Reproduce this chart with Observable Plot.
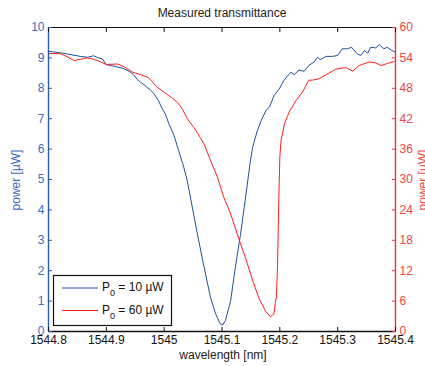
<!DOCTYPE html>
<html><head><meta charset="utf-8">
<script src="https://cdn.jsdelivr.net/npm/d3@7"></script>
<script src="https://cdn.jsdelivr.net/npm/@observablehq/plot@0.6"></script>
<style>
body{margin:0;background:#fff}
#chart{position:relative;width:425px;height:366px;overflow:hidden}
</style>
</head><body><div id="chart"></div>
<script>
// ---- data ----
const blueWavelength = [1544.800,1544.826,1544.855,1544.868,1544.878,1544.886,1544.893,1544.900,1544.915,1544.930,1544.940,1544.947,1544.953,1544.959,1544.965,1544.970,1544.976,1544.982,1544.990,1544.996,1545.002,1545.008,1545.017,1545.025,1545.034,1545.040,1545.046,1545.057,1545.069,1545.080,1545.089,1545.097,1545.101,1545.106,1545.115,1545.123,1545.132,1545.140,1545.149,1545.153,1545.161,1545.168,1545.176,1545.182,1545.190,1545.199,1545.207,1545.213,1545.219,1545.225,1545.233,1545.242,1545.250,1545.259,1545.265,1545.270,1545.280,1545.291,1545.300,1545.308,1545.317,1545.324,1545.334,1545.340,1545.346,1545.352,1545.357,1545.366,1545.372,1545.380,1545.386,1545.393,1545.400];
const bluePower = [9.22,9.15,9.05,9.02,9.07,9.00,8.97,8.78,8.72,8.65,8.55,8.45,8.30,8.20,8.12,8.04,7.95,7.83,7.60,7.35,7.16,6.84,6.45,5.95,5.40,4.95,4.35,3.25,2.12,1.13,0.58,0.25,0.21,0.36,1.02,2.10,3.20,4.30,5.60,6.06,6.60,6.95,7.27,7.38,7.76,7.98,8.26,8.40,8.53,8.45,8.60,8.56,8.75,8.86,9.02,8.94,9.05,9.05,9.08,9.30,9.30,9.35,9.13,9.08,9.24,9.16,9.35,9.33,9.44,9.30,9.35,9.25,9.19];

const redWavelength = [1544.800,1544.821,1544.833,1544.844,1544.855,1544.867,1544.876,1544.884,1544.900,1544.919,1544.930,1544.945,1544.959,1544.973,1544.980,1544.988,1545.000,1545.014,1545.023,1545.031,1545.040,1545.051,1545.057,1545.069,1545.080,1545.092,1545.103,1545.115,1545.130,1545.141,1545.153,1545.164,1545.176,1545.184,1545.190,1545.192,1545.194,1545.196,1545.198,1545.200,1545.202,1545.208,1545.216,1545.228,1545.239,1545.250,1545.256,1545.268,1545.280,1545.291,1545.297,1545.314,1545.326,1545.337,1545.355,1545.366,1545.375,1545.386,1545.398,1545.400];
const redPower = [54.9,54.8,54.2,53.5,53.7,54.0,53.8,53.5,52.7,52.8,52.3,51.2,50.7,50.1,49.2,48.2,47.2,46.1,45.2,44.0,42.0,40.3,39.3,37.0,33.8,30.5,26.5,23.2,18.0,14.4,10.1,6.5,3.9,2.9,3.5,5.5,6.8,12.8,25.0,34.4,37.7,41.0,43.3,45.6,47.2,49.6,49.6,49.9,50.7,51.4,51.8,52.1,51.4,52.5,53.2,53.0,52.5,52.9,53.3,53.3];

const xTicks = [1544.8,1544.9,1545.0,1545.1,1545.2,1545.3,1545.4];
const leftTicks = [0,1,2,3,4,5,6,7,8,9,10];
const rightTicks = [0,6,12,18,24,30,36,42,48,54,60];
const seriesLabels = ["10 µW","60 µW"];
const titleText = "Measured transmittance";
const xLabel = "wavelength [nm]";
const yLabel = "power [µW]";

// ---- styles ----
const blueLine = "#1f4f9e", blueAxis = "#2a5cb0", blueText = "#3b6cc0";
const redLine = "#ff1f1f", redAxis = "#e8343a", redText = "#f04545";
const font = "'Liberation Sans', Arial, sans-serif";
const ratio = rightTicks[rightTicks.length-1] / leftTicks[leftTicks.length-1];

const blue = blueWavelength.map((x,i)=>({x, y: bluePower[i]}));
const red = redWavelength.map((x,i)=>({x, y: redPower[i]}));
const fmt = d => String(+(+d).toFixed(1));

const plot = Plot.plot({
  width: 425, height: 366,
  marginLeft: 48, marginRight: 30, marginTop: 27, marginBottom: 35,
  style: {fontFamily: font, fontSize: "12px", background: "white", overflow: "visible"},
  x: {domain: [xTicks[0], xTicks[xTicks.length-1]]},
  y: {domain: [leftTicks[0], leftTicks[leftTicks.length-1]]},
  marks: [
    Plot.line(blue, {x: "x", y: "y", stroke: blueLine, strokeWidth: 1}),
    Plot.line(red, {x: "x", y: d => d.y / ratio, stroke: redLine, strokeWidth: 1}),
    Plot.ruleY([leftTicks[leftTicks.length-1]], {stroke: "#111", strokeWidth: 1.2}),
    Plot.ruleY([leftTicks[0]], {stroke: "#111", strokeWidth: 1.4}),
    Plot.ruleX([xTicks[0]], {stroke: blueAxis, strokeWidth: 1.4}),
    Plot.ruleX([xTicks[xTicks.length-1]], {stroke: redAxis, strokeWidth: 1.4}),
    Plot.axisX({anchor: "bottom", ticks: xTicks, tickFormat: fmt, tickSize: -4, tickPadding: 8, label: null, color: "#111", fontSize: 12}),
    Plot.axisX({anchor: "top", ticks: xTicks, tickFormat: () => "", tickSize: -4, label: null, color: "#111"}),
    Plot.axisY({anchor: "left", ticks: leftTicks, tickFormat: fmt, tickSize: -4, tickPadding: 8, label: null, color: blueText, stroke: blueAxis}),
    Plot.axisY({anchor: "right", ticks: rightTicks.map(v => v / ratio), tickFormat: d => fmt(d * ratio), tickSize: -4, tickPadding: 8, label: null, color: redText, stroke: redAxis})
  ]
});

const svg = d3.select(plot);
svg.append("text").attr("x", 222).attr("y", 17).attr("text-anchor","middle")
  .attr("font-family", font).attr("font-size", 12).attr("fill", "#222").text(titleText);
svg.append("text").attr("x", 223).attr("y", 359).attr("text-anchor","middle")
  .attr("font-family", font).attr("font-size", 12).attr("fill", "#222").text(xLabel);
svg.append("text").attr("transform","translate(20,180) rotate(-90)").attr("text-anchor","middle")
  .attr("font-family", font).attr("font-size", 12).attr("fill", blueText).text(yLabel);
svg.append("text").attr("transform","translate(427,180) rotate(-90)").attr("text-anchor","middle")
  .attr("font-family", font).attr("font-size", 12).attr("fill", redText).text(yLabel);

// legend
const lg = svg.append("g");
lg.append("rect").attr("x", 53.5).attr("y", 275.5).attr("width", 118).attr("height", 50)
  .attr("fill", "white").attr("stroke", "#111").attr("stroke-width", 1.2);
[blueLine, redLine].forEach((c, i) => {
  const y = 288 + i * 22.5;
  lg.append("line").attr("x1", 62).attr("x2", 98).attr("y1", y).attr("y2", y).attr("stroke", c).attr("stroke-width", 1);
  const t = lg.append("text").attr("x", 102).attr("y", y + 3).attr("text-anchor", "start")
    .attr("font-family", font).attr("font-size", 12).attr("fill", "#111");
  t.append("tspan").text("P");
  t.append("tspan").attr("font-size", 9).attr("dy", 5).text("0");
  t.append("tspan").attr("dy", -5).text(" = " + seriesLabels[i]);
});

document.getElementById("chart").appendChild(plot);
</script>
</body></html>
